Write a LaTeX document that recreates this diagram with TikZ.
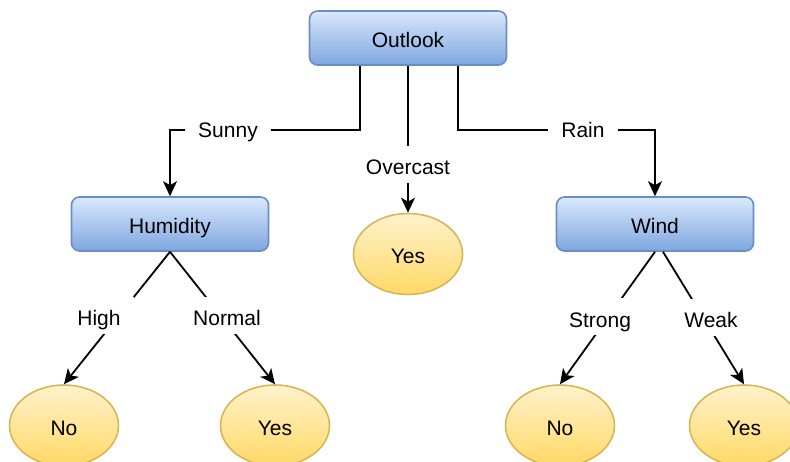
\documentclass[tikz,border=0pt]{standalone}
\usepackage{fontspec}
\setmainfont{Liberation Sans}
\usetikzlibrary{shapes.geometric,arrows.meta,calc}

\definecolor{blueTop}{HTML}{DAE8FC}
\definecolor{blueBot}{HTML}{7EA6E0}
\definecolor{blueLine}{HTML}{6C8EBF}
\definecolor{yelTop}{HTML}{FFF2CC}
\definecolor{yelBot}{HTML}{FFD966}
\definecolor{yelLine}{HTML}{D6B656}

\tikzset{
  every node/.style={font=\fontsize{21}{25}\selectfont, text height=21pt, text depth=1pt},
  attrbox/.style={draw=blueLine, line width=1.6pt, rounded corners=8pt,
    top color=blueTop, bottom color=blueBot,
    minimum width=197pt, minimum height=54pt, inner sep=0pt},
  leafnode/.style={ellipse, draw=yelLine, line width=1.6pt,
    top color=yelTop, bottom color=yelBot,
    minimum width=109pt, minimum height=81pt, inner sep=0pt},
  branch/.style={line width=1.8pt, -{Stealth[length=15pt, width=14pt, inset=4pt]}},
  edgelabel/.style={fill=white, inner xsep=13pt, inner ysep=0pt, minimum height=37pt}
}

\begin{document}
\begin{tikzpicture}[x=1pt, y=-1pt]
  \useasboundingbox (0,0) rectangle (790,462);

  % decision nodes
  \node[attrbox] (outlook)  at (408,38)  {Outlook};
  \node[attrbox] (humidity) at (170,224) {Humidity};
  \node[attrbox] (wind)     at (655,224) {Wind};

  % leaves
  \node[leafnode] (yesmid) at (408,254)   {Yes};
  \node[leafnode] (nohum)  at (64,425.5)  {No};
  \node[leafnode] (yeshum) at (275,425.5) {Yes};
  \node[leafnode] (nowind) at (560,425.5) {No};
  \node[leafnode] (yeswind) at (744,425.5) {Yes};

  % branches
  \draw[branch] ([xshift=-48pt]outlook.south) |- ($(humidity.north)+(0,-66)$) -- (humidity.north);
  \draw[branch] (outlook.south) -- (yesmid.north);
  \draw[branch] ([xshift=50pt]outlook.south) |- ($(wind.north)+(0,-66)$) -- (wind.north);

  \draw[branch] (humidity.south) -- (nohum.north);
  \draw[branch] (humidity.south) -- (yeshum.north);
  \draw[branch] (wind.south) -- (nowind.north);
  \draw[branch] ([xshift=8pt]wind.south) -- (yeswind.north);

  % branch labels
  \node[edgelabel] (lsunny)    at (228,127.5) {Sunny};
  \node[edgelabel] (lovercast) at (408,165)   {Overcast};
  \node[edgelabel] (lrain)     at (583,127.5) {Rain};
  \node[edgelabel] (lhigh)     at (99,316)    {High};
  \node[edgelabel] (lnormal)   at (227,316)   {Normal};
  \node[edgelabel] (lstrong)   at (600,317)   {Strong};
  \node[edgelabel] (lweak)     at (711,318)   {Weak};
\end{tikzpicture}
\end{document}
